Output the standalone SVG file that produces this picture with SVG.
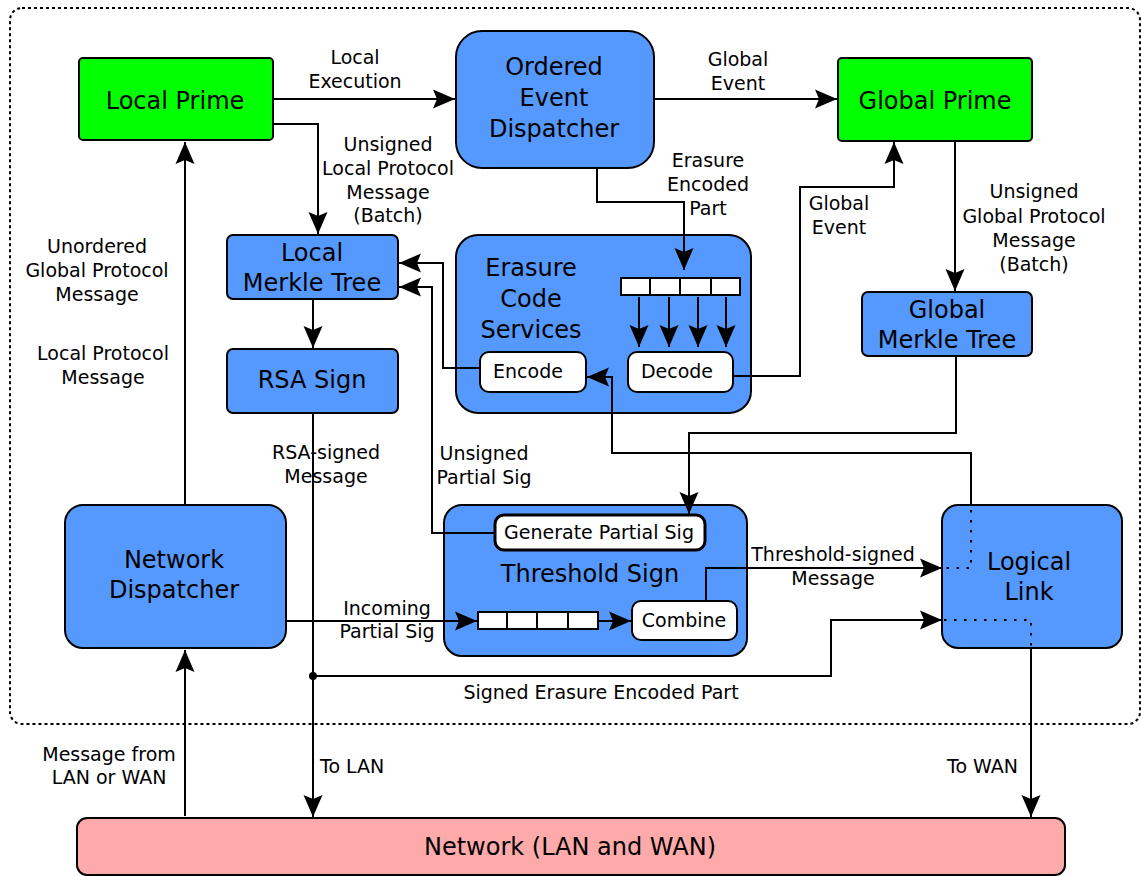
<svg xmlns="http://www.w3.org/2000/svg" width="1141" height="876" viewBox="0 0 1141 876">
<style>
.node{stroke:#000;stroke-width:2}
.blue{fill:#5599ff}
.green{fill:#00ff00}
.pink{fill:#ffaaaa}
.white{fill:#fff}
.t{font-family:"DejaVu Sans","Liberation Sans",sans-serif;fill:#000;text-anchor:middle}
.big{font-size:24px}
.sm{font-size:19px}
.c{fill:none;stroke:#000;stroke-width:2}
.arr{marker-end:url(#ah)}
.dot{fill:none;stroke:#000;stroke-width:2;stroke-dasharray:2.5,7.5}
</style>
<defs>
<marker id="ah" markerUnits="userSpaceOnUse" markerWidth="26" markerHeight="24" refX="22" refY="12" orient="auto">
<path d="M0,2.5 L22,12 L0,21.5 L4,12 z" fill="#000"/>
</marker>
</defs>
<rect x="10" y="8" width="1130" height="716" rx="12" fill="none" stroke="#000" stroke-width="2" stroke-dasharray="3,3"/>

<g id="local-prime">
<rect class="node green" x="79" y="58" width="194" height="82" rx="4"/>
<text class="t big" x="175" y="109">Local Prime</text>
</g>
<g id="ordered-event-dispatcher">
<rect class="node blue" x="456" y="31" width="198" height="137" rx="26"/>
<text class="t big" x="554" y="75">Ordered</text>
<text class="t big" x="554" y="106">Event</text>
<text class="t big" x="554" y="137">Dispatcher</text>
</g>
<g id="global-prime">
<rect class="node green" x="838" y="58" width="194" height="83" rx="4"/>
<text class="t big" x="935" y="109">Global Prime</text>
</g>
<g id="local-merkle-tree">
<rect class="node blue" x="227" y="235" width="171" height="64" rx="6"/>
<text class="t big" x="312" y="261">Local</text>
<text class="t big" x="312" y="291">Merkle Tree</text>
</g>
<g id="rsa-sign">
<rect class="node blue" x="227" y="349" width="171" height="64" rx="6"/>
<text class="t big" x="312" y="388">RSA Sign</text>
</g>
<g id="erasure-code-services">
<rect class="node blue" x="456" y="235" width="295" height="178" rx="22"/>
<text class="t big" x="531" y="276">Erasure</text>
<text class="t big" x="531" y="307">Code</text>
<text class="t big" x="531" y="338">Services</text>
<g stroke="#000" stroke-width="2" fill="#fff">
<rect x="621" y="278" width="29" height="17"/>
<rect x="650" y="278" width="30" height="17"/>
<rect x="680" y="278" width="31" height="17"/>
<rect x="711" y="278" width="29" height="17"/>
</g>
</g>
<g id="encode">
<rect class="node white" x="480" y="352" width="106" height="40" rx="9"/>
<text class="t sm" x="528" y="378">Encode</text>
</g>
<g id="decode">
<rect class="node white" x="628" y="352" width="105" height="40" rx="9"/>
<text class="t sm" x="677" y="378">Decode</text>
</g>
<g id="global-merkle-tree">
<rect class="node blue" x="862" y="292" width="170" height="64" rx="6"/>
<text class="t big" x="947" y="318">Global</text>
<text class="t big" x="947" y="348">Merkle Tree</text>
</g>
<g id="threshold-sign">
<rect class="node blue" x="444" y="505" width="303" height="151" rx="18"/>
<text class="t big" x="590" y="582">Threshold Sign</text>
<g stroke="#000" stroke-width="2" fill="#fff">
<rect x="478" y="612" width="29" height="17"/>
<rect x="507" y="612" width="30" height="17"/>
<rect x="537" y="612" width="31" height="17"/>
<rect x="568" y="612" width="30" height="17"/>
</g>
</g>
<g id="generate-partial-sig">
<rect class="white" x="495" y="515" width="210" height="35" rx="9" stroke="#000" stroke-width="3"/>
<text class="t sm" x="599" y="539">Generate Partial Sig</text>
</g>
<g id="combine">
<rect class="node white" x="632" y="601" width="105" height="39" rx="9"/>
<text class="t sm" x="684" y="627">Combine</text>
</g>
<g id="network-dispatcher">
<rect class="node blue" x="65" y="505" width="221" height="143" rx="18"/>
<text class="t big" x="174" y="568">Network</text>
<text class="t big" x="174" y="598">Dispatcher</text>
</g>
<g id="logical-link">
<rect class="node blue" x="942" y="505" width="180" height="143" rx="16"/>
<path class="dot" d="M971,510 V568 H944"/>
<path class="dot" d="M944,620 H1031 V646"/>
<text class="t big" x="1029" y="570">Logical</text>
<text class="t big" x="1029" y="600">Link</text>
</g>
<g id="network">
<rect class="node pink" x="77" y="818" width="988" height="57" rx="10"/>
<text class="t big" x="570" y="855">Network (LAN and WAN)</text>
</g>

<g id="connectors">
<path class="c arr" d="M273,99 H455"/>
<path class="c arr" d="M654,99 H837"/>
<path class="c arr" d="M273,124 H318 V234"/>
<path class="c arr" d="M313,299 V348"/>
<path class="c arr" d="M313,413 V817"/>
<circle cx="313" cy="676" r="4" fill="#000"/>
<path class="c arr" d="M313,676 H831 V620 H942"/>
<path class="c arr" d="M597,168 V202 H684 V270"/>
<path class="c arr" d="M639,297 V347"/>
<path class="c arr" d="M669,297 V347"/>
<path class="c arr" d="M698,297 V347"/>
<path class="c arr" d="M726,297 V347"/>
<path class="c arr" d="M733,376 H800 V187 H894 V142"/>
<path class="c arr" d="M955,141 V291"/>
<path class="c arr" d="M956,357 V433 H689 V514"/>
<path class="c arr" d="M971,505 V453 H612 V377 H587"/>
<path class="c arr" d="M480,368 H443 V263 H399"/>
<path class="c arr" d="M495,533 H432 V287 H399"/>
<path class="c arr" d="M286,621 H477"/>
<path class="c arr" d="M598,621 H631"/>
<path class="c arr" d="M706,600 V568 H942"/>
<path class="c arr" d="M185,505 V142"/>
<path class="c arr" d="M185,816 V650"/>
<path class="c arr" d="M1031,648 V817"/>
</g>

<g id="labels">
<text class="t sm" x="355" y="64">Local</text>
<text class="t sm" x="355" y="88">Execution</text>
<text class="t sm" x="738" y="66">Global</text>
<text class="t sm" x="738" y="90">Event</text>
<text class="t sm" x="388" y="151">Unsigned</text>
<text class="t sm" x="388" y="175">Local Protocol</text>
<text class="t sm" x="388" y="199">Message</text>
<text class="t sm" x="388" y="222">(Batch)</text>
<text class="t sm" x="708" y="167">Erasure</text>
<text class="t sm" x="708" y="191">Encoded</text>
<text class="t sm" x="708" y="215">Part</text>
<text class="t sm" x="839" y="210">Global</text>
<text class="t sm" x="839" y="234">Event</text>
<text class="t sm" x="1034" y="198">Unsigned</text>
<text class="t sm" x="1034" y="223">Global Protocol</text>
<text class="t sm" x="1034" y="247">Message</text>
<text class="t sm" x="1034" y="271">(Batch)</text>
<text class="t sm" x="97" y="253">Unordered</text>
<text class="t sm" x="97" y="277">Global Protocol</text>
<text class="t sm" x="97" y="301">Message</text>
<text class="t sm" x="103" y="360">Local Protocol</text>
<text class="t sm" x="103" y="384">Message</text>
<text class="t sm" x="326" y="459">RSA-signed</text>
<text class="t sm" x="326" y="483">Message</text>
<text class="t sm" x="484" y="460">Unsigned</text>
<text class="t sm" x="484" y="484">Partial Sig</text>
<text class="t sm" x="833" y="561">Threshold-signed</text>
<text class="t sm" x="833" y="585">Message</text>
<text class="t sm" x="387" y="615">Incoming</text>
<text class="t sm" x="387" y="638">Partial Sig</text>
<text class="t sm" x="601" y="699">Signed Erasure Encoded Part</text>
<text class="t sm" x="109" y="761">Message from</text>
<text class="t sm" x="109" y="784">LAN or WAN</text>
<text class="t sm" x="320" y="773" style="text-anchor:start">To LAN</text>
<text class="t sm" x="1018" y="773" style="text-anchor:end">To WAN</text>
</g>
</svg>
